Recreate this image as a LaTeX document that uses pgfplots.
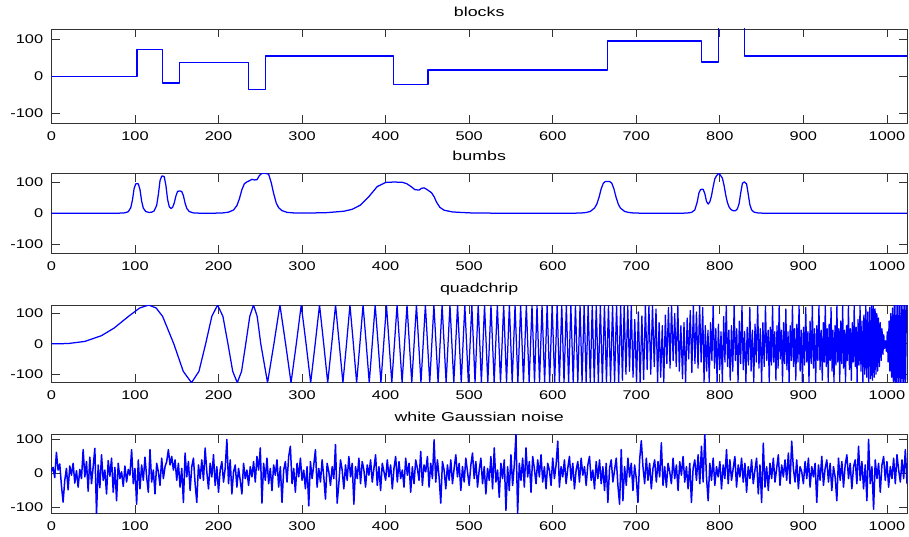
\documentclass[border=0pt]{standalone}
\usepackage{fontspec}
\setmainfont{Liberation Sans}[FakeStretch=1.3]
\newfontfamily\titlefont{Liberation Sans}[FakeStretch=1.37]
\usepackage{pgfplots}
\pgfplotsset{compat=1.18}

\pgfplotsset{
  sig/.style={
    scale only axis, width=855.6pt, anchor=north west,
    xmin=0, xmax=1024, ymin=-128, ymax=128,
    xtick={0,100,...,1000}, ytick={-100,0,100},
    tick align=inside, tick pos=both, major tick length=8.5pt,
    axis line style={black!80, line width=0.9pt},
    tick style={black!80, line width=0.9pt},
    tick label style={font=\fontsize{12.6}{14}\selectfont},
    xticklabel style={inner sep=0pt, yshift=-8pt},
    yticklabel style={inner sep=0pt, xshift=-8pt},
    every axis title/.style={at={(0.5,1)}, anchor=base, yshift=12.5pt, inner sep=0pt,
      font=\titlefont\fontsize{13}{15}\selectfont},
    /pgf/number format/assume math mode=true,
    /pgf/number format/1000 sep={},
  },
  sigline/.style={blue, line width=1.25pt, no marks, line join=round},
}

\begin{document}
\begin{tikzpicture}
\useasboundingbox (0pt,0pt) rectangle (909pt,-537pt);

% blocks
\begin{axis}[sig, at={(51.4pt,-29pt)}, height=94.3pt, title={blocks}]
\addplot[sigline, const plot] coordinates {
(0,0)(102.4,73.2)(133.1,-18.3)(153.6,36.6)(235.5,-36.6)(256,54.9)(409.6,-22)
(450.6,16.5)(665.6,95.2)(778.2,38.4)(798.7,131.8)(829.4,54.9)(1024,54.9)};
\end{axis}

% bumps
\begin{axis}[sig, at={(51.4pt,-173.3pt)}, height=80pt, title={bumbs}]
\addplot[sigline] coordinates {
(0,0)(80,0.3)(88,1.5)(92,5.2)(95,17.8)(97,42.5)(99,79.5)(101,94.4)(102.4,95)(104,94.1)
(106,76.4)(108,39)(110,16.5)(113,5.4)(117,2.7)(120,3.4)(123,7.8)(126,25.6)(128,59.9)
(130,104.7)(132,118.5)(133.1,119.3)(135,117.4)(137,90.2)(139,45.2)(141,21.6)(143,15.3)
(145,18.7)(147,32.7)(149,55.4)(151,70)(153.6,71.7)(156,69.6)(158,56.3)(160,32.7)(162,15.9)
(165,5.5)(170,1.3)(178,0.3)(195,0.4)(205,1.2)(212,3.7)(218,10.5)(222,24.6)(225,46.6)
(228,75.9)(231,94.8)(234,100.3)(237,104.2)(240,108.7)(243,106.8)(246,107.3)(249,121)
(252,128)(256,128)(260,125)(263,99.2)(266,63.4)(269,33.8)(272,17.8)(276,8.6)(282,3)
(292,0.8)(305,0.6)(330,2.2)(350,6.6)(360,12.8)(370,26.5)(380,53.6)(390,85.6)(400,98.8)
(410,100.1)(420,99.1)(425,95.1)(430,86.4)(435,75.8)(440,74.2)(443,79.9)(446,81.5)
(449,76.9)(452,71.4)(455,65.6)(458,53.1)(461,35.4)(465,18.8)(470,9.9)(480,4.3)(500,1.4)
(530,0.4)(600,0.1)(625,0.3)(635,1.2)(640,2.6)(645,6)(650,16.7)(652.8,29.7)(655.4,51.1)
(657.9,77.6)(660.5,96.1)(663,101.7)(665.6,102.1)(668.2,101.7)(670.7,96.1)(673.3,77.6)
(675.8,51.1)(678.4,29.7)(681,16.7)(686,6)(691,2.6)(696,1.2)(706,0.3)(750,0.2)(760,0.7)
(766,2.7)(770,10.5)(773,36.9)(775,65.6)(777,75.8)(778.2,76.7)(780,76.8)(782,63.2)
(784,38.4)(786,29.5)(788,36.1)(790,55.9)(792,85.1)(794,110.3)(796,120.3)(798.7,128)
(801,120.5)(803,112.8)(805,90)(807,59.3)(809,35)(811,20.5)(813,12.7)(816,7.9)(819,8.6)
(821,14.3)(823,30.5)(825,65.6)(827,96)(829.4,100.4)(832,94)(834,60.8)(836,26.5)
(838,11.1)(841,3.6)(846,0.9)(856,0.1)(1024,0)};
\end{axis}

% quadchirp
\begin{axis}[sig, at={(51.4pt,-305pt)}, height=77.7pt, title={quadchrip}]
\addplot[sigline] coordinates {
(0,0)(20,1)(40,8)(60,27)(75,52)(92.3,90.5)(105.7,118.3)(116.3,128)(125.3,118.3)
(133.1,90.5)(146.5,0)(157.8,-90.5)(167.7,-128)(176.6,-90.5)(184.6,0)(192.0,90.5)
(198.9,128)(205.3,90.5)(211.3,0)(217.0,-90.5)(222.5,-128)(227.6,-90.5)(232.6,0)
(237.4,90.5)(241.9,128)(246.3,90.5)(250.6,0)(258.7,-128)(266.3,0)(273.5,128)(280.3,0)
(286.8,-128)(293.1,0)(299.0,128)(304.8,0)(310.3,-128)(315.7,0)(320.9,128)(325.9,0)
(330.7,-128)(335.5,0)(340.1,128)(344.5,0)(348.9,-128)(353.2,0)(357.3,128)(361.4,0)
(365.3,-128)(369.2,0)(373.0,128)(376.8,0)(380.4,-128)(384.0,0)(387.5,128)(391.0,0)
(394.4,-128)(397.7,0)(401.0,128)
(407.4,-128)(413.7,128)(419.7,-128)(425.6,128)(431.3,-128)(436.9,128)(442.3,-128)
(447.6,128)(452.8,-128)(457.8,128)(462.8,-128)(467.6,128)(472.4,-128)(477.0,128)
(481.6,-128)(486.1,128)(490.5,-128)(494.8,128)(499.0,-128)(503.2,128)(507.0,-128)
(510.8,128)(514.6,-128)(518.4,128)(522.3,-128)(526.1,128)(529.9,-128)(533.7,128)
(537.5,-128)(541.3,128)(544.7,-128)(548.1,128)(551.5,-128)(554.9,128)(558.3,-128)
(561.6,128)(565.0,-128)(568.4,128)(571.8,-128)(575.2,128)(578.2,-128)(581.2,128)
(584.2,-128)(587.2,128)(590.3,-128)(593.3,128)(596.3,-128)(599.3,128)(602.3,-128)
(605.3,128)(608.0,-128)(610.8,128)(613.5,-128)(616.3,128)(619.0,-128)(621.7,128)
(624.5,-128)(627.2,128)(630.0,-128)(632.7,128)(635.1,-128)(637.6,128)(640.0,-128)
(642.4,128)(644.9,-128)(647.3,128)(649.7,-128)(652.1,128)(654.6,-128)(657.0,128)
(659.4,-128)(661.9,128)(664.3,-128)(666.7,128)(669.2,-128)(671.6,128)(674.0,-128)
(676.4,128)(678.9,-128)(681.3,128)
(683.4,-120)(685.5,128)(687.6,-100)(689.8,125)(691.9,-90)(694.0,128)(696.1,-110)
(698.2,80)(700.3,-128)(702.5,105)(704.6,-128)(706.7,92)(708.8,-118)(710.9,128)
(713.0,-85)(715.1,124)(717.3,-100)(719.4,128)(721.5,-75)(723.6,115)
(725.5,-128)(727.3,70)(729.2,-110)(731.1,60)(732.9,-128)(734.8,95)(736.6,-65)
(738.5,120)(740.4,-80)(742.2,128)(744.1,-55)(746.0,100)(747.8,-75)(749.7,128)
(751.5,-90)(753.4,60)(755.3,-115)(757.1,70)(759.0,-128)(760.9,85)(762.7,-50)
(764.6,110)(766.5,-95)(768.3,128)(770.2,-65)(772.0,105)(773.9,-80)(775.8,128)
(777.6,-60)(779.5,120)
(781.1,-128)(782.6,60)(784.2,-90)(785.8,45)(787.3,-128)(788.9,70)(790.5,-55)
(792.0,128)(793.6,-80)(795.2,50)(796.7,-128)(798.3,65)(799.9,-85)(801.4,40)
(803.0,-128)(804.6,90)(806.1,-60)(807.7,128)(809.3,-75)(810.8,45)(812.4,-120)
(813.9,60)(815.5,-90)(817.1,128)(818.6,-55)(820.2,50)(821.8,-128)(823.3,75)
(824.9,-65)(826.5,128)(828.0,-85)(829.6,40)(831.2,-128)(832.7,55)(834.3,-70)
(835.9,120)(837.4,-90)(839.0,45)(840.6,-128)(842.1,65)(843.7,-60)(845.3,128)
(846.8,-80)(848.4,50)(850.0,-128)(851.5,70)(853.1,-75)(854.6,125)(856.2,-55)(857.8,45)
(859.1,-128)(860.4,55)(861.8,-70)(863.1,128)(864.4,-60)(865.7,40)(867.1,-120)
(868.4,60)(869.7,-80)(871.0,128)(872.3,-50)(873.7,45)(875.0,-128)(876.3,70)
(877.6,-65)(879.0,115)(880.3,-85)(881.6,40)(882.9,-128)(884.2,60)(885.6,-55)
(886.9,128)(888.2,-75)(889.5,50)(890.9,-120)(892.2,65)(893.5,-60)(894.8,128)
(896.1,-90)(897.5,45)(898.8,-128)(900.1,55)(901.4,-70)(902.8,120)(904.1,-60)
(905.4,40)(906.7,-128)(908.0,75)(909.4,-65)(910.7,128)(912.0,-80)(913.3,50)
(914.7,-128)(916.0,60)(917.3,-55)(918.6,128)(919.9,-85)(921.3,45)(922.6,-120)(923.9,70)
(925.1,-60)(926.2,128)(927.4,-75)(928.5,50)(929.7,-128)(930.8,65)(932.0,-55)
(933.1,120)(934.3,-90)(935.4,45)(936.6,-128)(937.8,60)(938.9,-70)(940.1,128)
(941.2,-60)(942.4,50)(943.5,-125)(944.7,75)(945.8,-65)(947.0,128)(948.1,-80)
(949.3,45)(950.4,-128)(951.6,60)(952.8,-55)(953.9,128)(955.1,-85)(956.2,50)
(957.4,-120)(958.5,70)(959.7,-60)(960.8,128)(962.0,-75)(963.1,55)(964.3,-128)
(965.4,80)(966.6,-70)(967.8,128)(968.9,-90)(970.1,75)(971.2,-128)(972.4,95)
(973.5,-100)(974.7,128)(975.8,-110)(977.0,105)(978.1,-128)(979.3,120)(980.4,-115)(981.6,128)
(982.6,-120)(983.7,125)(984.7,-110)(985.8,115)(986.8,-100)(987.9,100)(988.9,-90)
(989.9,85)(991.0,-75)(992.0,70)(993.1,-55)(994.1,50)(995.2,-35)(996.2,30)(997.2,-15)
(998.3,10)(999.3,-25)(1000.4,40)(1001.4,-60)(1002.5,75)(1003.5,-90)(1004.5,100)
(1005.6,-110)(1006.6,118)(1007.7,-125)(1008.7,128)(1009.8,-128)(1010.8,128)
(1011.8,-128)(1012.9,128)(1013.9,-128)(1015.0,128)(1016.0,-128)(1017.1,128)
(1018.1,-128)(1019.1,128)(1020.2,-128)(1021.2,128)(1022.3,-128)(1023.3,128)};
\end{axis}

% white Gaussian noise
\begin{axis}[sig, at={(51.4pt,-434.3pt)}, height=79.4pt, ymin=-118, ymax=115,
  title={white Gaussian noise}]
\addplot[sigline, line width=1.5pt] coordinates {
(0,5)(2,18)(4,-12)(6,62)(8,10)(10,28)(12,-35)(14,-84)(16,-20)(18,15)
(20,-48)(22,22)(24,-5)(26,30)(28,-28)(30,8)(32,-40)(34,12)(36,-15)(38,70)
(40,-10)(42,35)(44,-52)(46,48)(48,-30)(50,20)(52,74)(54,-118)(56,25)(58,-42)
(60,55)(62,-20)(64,10)(66,-60)(68,38)(70,-8)(72,45)(74,-55)(76,18)(78,-80)
(80,30)(82,-15)(84,5)(86,-38)(88,22)(90,-25)(92,12)(94,-5)(96,70)(98,-30)
(100,15)(102,-90)(104,40)(106,-45)(108,25)(110,-20)(112,48)(114,-10)(116,-55)(118,70)
(120,-25)(122,10)(124,-60)(126,30)(128,5)(130,-35)(132,45)(134,-15)(136,20)(138,35)
(140,70)(142,25)(144,50)(146,10)(148,40)(150,-20)(152,30)(154,-40)(156,15)(158,-85)
(160,60)(162,-10)(164,35)(166,-50)(168,20)(170,45)(172,-30)(174,-85)(176,25)(178,-15)
(180,40)(182,-20)(184,75)(186,5)(188,-45)(190,30)(192,-10)(194,55)(196,-35)(198,20)
(200,-55)(202,10)(204,35)(206,-25)(208,15)(210,100)(212,-30)(214,40)(216,-60)(218,5)
(220,25)(222,-40)(224,15)(226,-20)(228,-60)(230,30)(232,-15)(234,10)(236,-35)(238,20)
(240,-10)(242,35)(244,-25)(246,50)(248,10)(250,75)(252,-87)(254,30)(256,-20)(258,45)
(260,-30)(262,15)(264,-50)(266,25)(268,-5)(270,40)(272,-40)(274,20)(276,-85)(278,10)
(280,35)(282,-25)(284,50)(286,80)(288,-30)(290,15)(292,-55)(294,30)(296,-10)(298,45)
(300,-20)(302,10)(304,-45)(306,20)(308,-95)(310,35)(312,-15)(314,25)(316,70)(318,-40)
(320,15)(322,-25)(324,40)(326,-10)(328,-75)(330,30)(332,5)(334,-35)(336,20)(338,-15)
(340,85)(342,-87)(344,-30)(346,40)(348,10)(350,-45)(352,25)(354,-20)(356,50)(358,-10)
(360,30)(362,-90)(364,20)(366,-15)(368,45)(370,-30)(372,35)(374,10)(376,-40)(378,25)
(380,-5)(382,40)(384,-25)(386,15)(388,55)(390,-35)(392,20)(394,-50)(396,30)(398,5)
(400,-20)(402,40)(404,-10)(406,25)(408,-45)(410,15)(412,50)(414,-25)(416,35)(418,-15)
(420,10)(422,-40)(424,45)(426,-5)(428,30)(430,-55)(432,20)(434,-30)(436,40)(438,15)
(440,-20)(442,65)(444,-35)(446,25)(448,5)(450,50)(452,-40)(454,30)(456,-15)(458,99)
(460,-25)(462,40)(464,-10)(466,-87)(468,35)(470,10)(472,-45)(474,25)(476,-20)(478,40)
(480,-30)(482,15)(484,55)(486,-10)(488,30)(490,-50)(492,20)(494,-25)(496,45)(498,5)
(500,-35)(502,25)(504,60)(506,-15)(508,35)(510,-40)(512,10)(514,45)(516,-30)(518,20)
(520,-60)(522,15)(524,-20)(526,50)(528,-45)(530,75)(532,-25)(534,10)(536,-70)(538,30)
(540,-15)(542,40)(544,-108)(546,20)(548,-50)(550,55)(552,-35)(554,25)(556,115)(558,-118)
(560,30)(562,-20)(564,45)(566,-40)(568,75)(570,-10)(572,35)(574,-55)(576,50)(578,15)
(580,-30)(582,40)(584,-10)(586,55)(588,-25)(590,20)(592,-45)(594,30)(596,10)(598,-35)
(600,45)(602,-15)(604,25)(606,95)(608,-40)(610,20)(612,-10)(614,40)(616,-30)(618,15)
(620,50)(622,-20)(624,30)(626,-45)(628,10)(630,35)(632,-25)(634,45)(636,-5)(638,20)
(640,-35)(642,25)(644,50)(646,-20)(648,10)(650,-45)(652,35)(654,-15)(656,40)(658,-30)
(660,20)(662,-50)(664,30)(666,-85)(668,15)(670,40)(672,-25)(674,10)(676,45)(678,-35)
(680,-90)(682,70)(684,-80)(686,20)(688,-35)(690,45)(692,-10)(694,30)(696,-50)(698,25)
(700,-15)(702,-85)(704,40)(706,96)(708,20)(710,-30)(712,45)(714,-20)(716,30)(718,-45)
(720,15)(722,40)(724,-25)(726,35)(728,-10)(730,90)(732,-35)(734,20)(736,-40)(738,30)
(740,5)(742,-30)(744,45)(746,-15)(748,25)(750,-50)(752,35)(754,-5)(756,50)(758,-25)
(760,20)(762,-45)(764,30)(766,-85)(768,15)(770,40)(772,-20)(774,55)(776,-30)(778,80)
(780,-25)(782,115)(784,-10)(786,-80)(788,30)(790,-20)(792,45)(794,-35)(796,20)(798,-10)
(800,35)(802,-45)(804,25)(806,-15)(808,70)(810,-30)(812,40)(814,-20)(816,15)(818,50)
(820,-40)(822,25)(824,-10)(826,45)(828,-25)(830,30)(832,-55)(834,20)(836,-15)(838,40)
(840,-30)(842,10)(844,45)(846,-60)(848,25)(850,-85)(852,89)(854,-40)(856,20)(858,-50)
(860,30)(862,-15)(864,45)(866,-25)(868,15)(870,55)(872,-35)(874,25)(876,-10)(878,40)
(880,-20)(882,60)(884,-30)(886,95)(888,15)(890,-25)(892,40)(894,-45)(896,20)(898,5)
(900,-30)(902,35)(904,-15)(906,45)(908,-40)(910,20)(912,-10)(914,30)(916,-85)(918,25)
(920,-20)(922,50)(924,-35)(926,15)(928,40)(930,-25)(932,30)(934,-50)(936,20)(938,-10)
(940,-80)(942,45)(944,-20)(946,35)(948,-40)(950,25)(952,55)(954,-15)(956,30)(958,-45)
(960,20)(962,40)(964,-30)(966,80)(968,-20)(970,35)(972,-45)(974,25)(976,-80)(978,100)
(980,-30)(982,20)(984,-105)(986,40)(988,-15)(990,30)(992,-55)(994,25)(996,50)(998,-20)
(1000,35)(1002,-40)(1004,20)(1006,-15)(1008,45)(1010,-30)(1012,55)(1014,10)(1016,-25)(1018,40)
(1020,-15)(1022,70)(1024,-30)};
\end{axis}
\end{tikzpicture}
\end{document}
